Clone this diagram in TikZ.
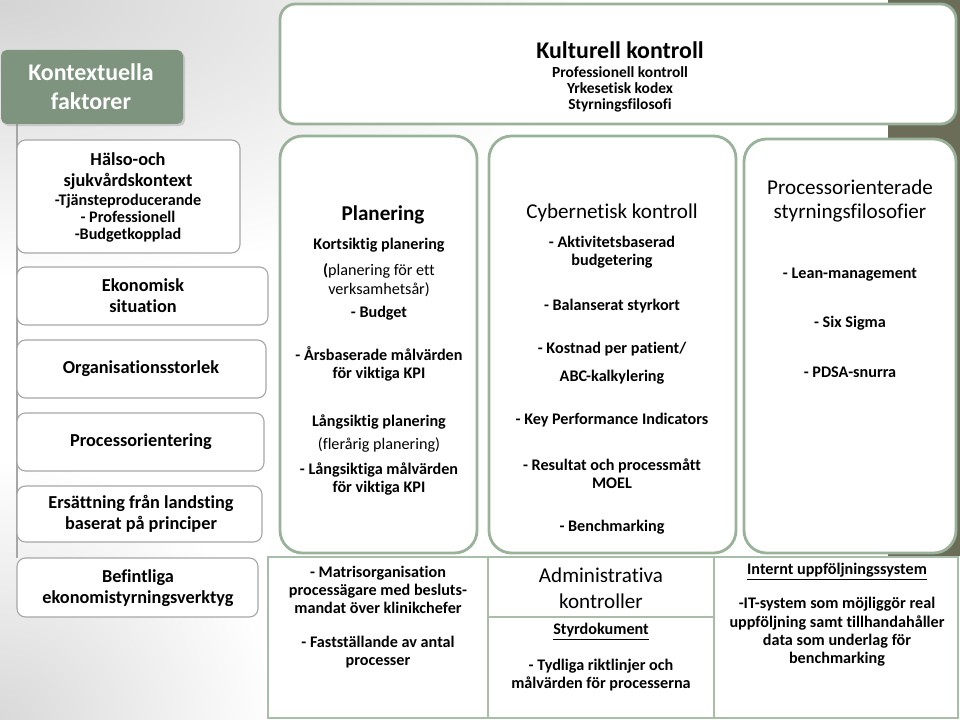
\documentclass[tikz,border=0pt]{standalone}
\usepackage{fontspec}
\setmainfont{Carlito}[Ligatures=NoCommon]
\usetikzlibrary{shadows}
\definecolor{boxgreen}{HTML}{9AB29A}
\definecolor{headgreen}{HTML}{7E947F}
\definecolor{darkolive}{HTML}{6B6D58}
\definecolor{edgegray}{HTML}{A6A6A6}
\tikzset{
  kultbox/.style={draw=boxgreen, line width=2pt, rounded corners=11pt, fill=white},
  colbox/.style={draw=boxgreen, line width=2pt, rounded corners=16pt, fill=white},
  sqbox/.style={draw=boxgreen!85, line width=1.5pt, fill=white},
  sidebox/.style={draw=edgegray, line width=0.8pt, rounded corners=6pt, fill=white},
  headbox/.style={fill=headgreen, rounded corners=4pt, drop shadow={opacity=0.3, shadow xshift=1.5pt, shadow yshift=-1.5pt}},
  txt/.style={align=center, inner sep=0pt, font=\bfseries\fontsize{11.5}{13}\selectfont},
  plain/.style={align=center, inner sep=0pt, font=\fontsize{11.5}{13}\selectfont},
  side/.style={align=center, inner sep=0pt, font=\bfseries\fontsize{13}{15}\selectfont},
  title/.style={align=center, inner sep=0pt, font=\bfseries\fontsize{15}{18}\selectfont},
  lighttitle/.style={align=center, inner sep=0pt, font=\fontsize{15}{17}\selectfont}
}

\begin{document}
\begin{tikzpicture}[x=0.025cm, y=-0.025cm]
		%%%%% BACKGROUND %%%%%
		\useasboundingbox (0,0) rectangle (960,720);
		\fill[white] (0,0) rectangle (960,720);
		\begin{scope}
		\clip (0,0) rectangle (960,720);
		\shade[inner color=black!17, outer color=white] (0,0) ellipse (600 and 280);
		\shade[inner color=black!15, outer color=white] (0,720) ellipse (280 and 260);
		\end{scope}
		\fill[darkolive] (888,0) rectangle (960,556);
		
		%%%%% LEFT COLUMN %%%%%
		\draw[edgegray, line width=0.8pt] (17,124) -- (17,558);
		\fill[headbox] (1,50) rectangle (183,124);
		\node[align=center, inner sep=0pt, text=white, font=\bfseries\fontsize{17}{20.5}\selectfont] (kontext) at (91,87) {Kontextuella\\faktorer};
		
		\draw[sidebox] (17,140) rectangle (240,253);
		\node[side] (halso) at (128,171) {Hälso-och\\sjukvårdskontext};
		\node[txt, font=\bfseries\fontsize{11.5}{12}\selectfont] (halsosub) at (128,218) {-Tjänsteproducerande\\- Professionell\\-Budgetkopplad};
		
		\draw[sidebox] (17,267) rectangle (268,325);
		\node[side] (ekonomi) at (143,296) {Ekonomisk\\ situation};
		
		\draw[sidebox] (17,340) rectangle (266,398);
		\node[side] (orgstorlek) at (141,369) {Organisationsstorlek};
		
		\draw[sidebox] (17,413) rectangle (264,471);
		\node[side] (procorient) at (141,442) {Processorientering};
		
		\draw[sidebox] (17,486) rectangle (262,542);
		\node[side] (ersattning) at (141,514) {Ersättning från landsting\\baserat på principer};
		
		\draw[sidebox] (17,558) rectangle (258,617);
		\node[side] (befintliga) at (138,588) {Befintliga\\ekonomistyrningsverktyg};
		
		%%%%% KULTURELL KONTROLL %%%%%
		\draw[kultbox] (280,4) rectangle (956,124);
		\node[title, font=\bfseries\fontsize{17}{19}\selectfont] (kultur) at (620,50) {Kulturell kontroll};
		\node[txt, font=\bfseries\fontsize{11}{11.4}\selectfont] (kultursub) at (620,89) {Professionell kontroll\\Yrkesetisk kodex\\Styrningsfilosofi};
		
		%%%%% PLANERING %%%%%
		\draw[colbox] (280,136) rectangle (477,553);
		\node[title] (plan) at (383,215) {Planering};
		\node[txt] (kortsiktig) at (379,245) {Kortsiktig planering};
		\node[plain] (kortsub) at (379,280) {{\bfseries(}planering för ett\\verksamhetsår)};
		\node[txt] (budget) at (379,313) {- Budget};
		\node[txt] (arsmal) at (379,364) {- Årsbaserade målvärden\\för viktiga KPI};
		\node[txt] (langsiktig) at (379,422) {Långsiktig planering};
		\node[plain] (langsub) at (379,445) {(flerårig planering)};
		\node[txt] (langmal) at (379,479) {- Långsiktiga målvärden\\för viktiga KPI};
		
		%%%%% CYBERNETISK KONTROLL %%%%%
		\draw[colbox] (489,136) rectangle (736,553);
		\node[lighttitle] (cyber) at (612,213) {Cybernetisk kontroll};
		\node[txt] (aktivitet) at (612,252) {- Aktivitetsbaserad\\budgetering};
		\node[txt] (balans) at (612,306) {- Balanserat styrkort};
		\node[txt] (kostnad) at (612,349) {- Kostnad per patient/};
		\node[txt] (abc) at (612,377) {ABC-kalkylering};
		\node[txt] (kpi) at (612,420) {- Key Performance Indicators};
		\node[txt] (resultat) at (612,474) {- Resultat och processmått\\MOEL};
		\node[txt] (bench) at (612,527) {- Benchmarking};
		
		%%%%% PROCESSORIENTERADE %%%%%
		\draw[colbox] (744,139) rectangle (956,553);
		\node[lighttitle] (procfilo) at (850,201) {Processorienterade\\styrningsfilosofier};
		\node[txt] (lean) at (850,275) {- Lean-management};
		\node[txt] (sigma) at (850,323) {- Six Sigma};
		\node[txt] (pdsa) at (850,372) {- PDSA-snurra};
		
		%%%%% BOTTOM ROW %%%%%
		\draw[sqbox] (268,557) rectangle (488,718);
		\node[txt] (matris) at (378,590) {- Matrisorganisation\\processägare med besluts-\\mandat över klinikchefer};
		\node[txt] (faststall) at (378,652) {- Fastställande av antal\\processer};
		
		\draw[sqbox] (488,557) rectangle (714,718);
		\draw[boxgreen!85, line width=1.5pt] (488,617) -- (714,617);
		\node[lighttitle, font=\fontsize{15}{18.5}\selectfont] (admin) at (601,588) {Administrativa\\kontroller};
		\node[txt] (styrdok) at (601,632) {\underline{Styrdokument}};
		\node[txt] (tydliga) at (601,675) {- Tydliga riktlinjer och\\målvärden för processerna};
		
		\draw[sqbox] (714,557) rectangle (958,718);
		\node[txt] (internt) at (837,572) {\underline{Internt uppföljningssystem}};
		\node[txt] (itsystem) at (837,632) {-IT-system som möjliggör real\\uppföljning samt tillhandahåller\\data som underlag för\\benchmarking};
		%%%%% END %%%%%
\end{tikzpicture}
\end{document}
